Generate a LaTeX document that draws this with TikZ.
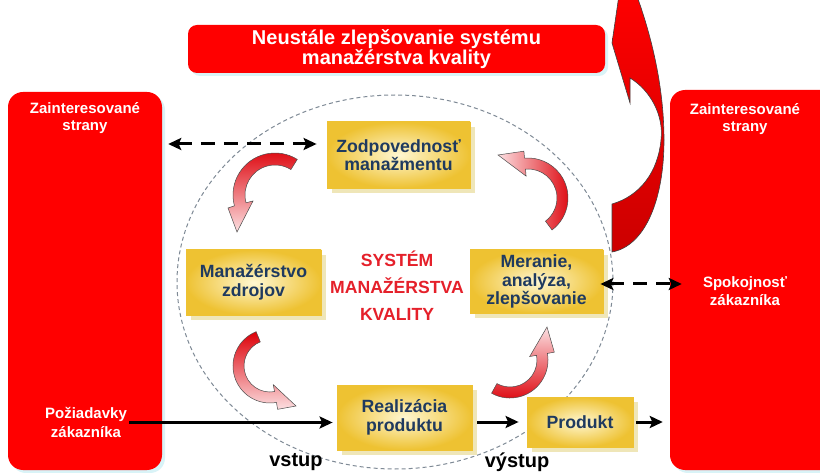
\documentclass[tikz,border=0pt]{standalone}
\usepackage{fontspec}
\setmainfont{Liberation Sans}
\usetikzlibrary{arrows.meta,calc}

\definecolor{boxred}{HTML}{FF0000}
\definecolor{curlred}{HTML}{DD0008}
\definecolor{curlpink}{HTML}{FCE0E2}
\definecolor{gold}{HTML}{EEC232}
\definecolor{goldlight}{HTML}{FFF7D2}
\definecolor{goldshadow}{HTML}{EFE6B8}
\definecolor{navy}{HTML}{1F3A5F}
\definecolor{titlered}{HTML}{E5202A}
\definecolor{haze}{HTML}{D9F3F7}
\definecolor{ringgray}{HTML}{7F8A96}

\tikzset{
  redpanel/.style={fill=boxred, rounded corners=15pt, inner sep=0pt,
    preaction={fill=haze, transform canvas={shift={(3pt,-3pt)}}}},
  paneltext/.style={text=white, font=\bfseries\fontsize{15}{17.5}\selectfont, align=center, inner sep=2pt},
  stagebox/.style={draw=gold, line width=0.8pt, inner color=goldlight, outer color=gold,
    text=navy, font=\bfseries\fontsize{17.7}{18.6}\selectfont, align=center, inner sep=0pt,
    preaction={fill=goldshadow, transform canvas={shift={(5pt,-5pt)}}}},
  flowarrow/.style={line width=3pt, -{Stealth[length=13pt,width=12pt,inset=2.5pt]}},
  linkarrow/.style={line width=3pt, dash pattern=on 14pt off 9pt,
    {Stealth[length=13pt,width=12pt,inset=2.5pt]}-{Stealth[length=13pt,width=12pt,inset=2.5pt]}},
  curl/.style={draw=black!70, line width=0.5pt},
  flowlabel/.style={text=black, font=\bfseries\fontsize{20}{22}\selectfont, inner sep=1pt},
}

\begin{document}
\begin{tikzpicture}[x=1pt, y=-1pt]
  \useasboundingbox (0,0) rectangle (820,473);
  \fill[white] (0,0) rectangle (820,473);

  % dashed boundary of the quality management system
  \draw[ringgray, dash pattern=on 4pt off 3pt, line width=1pt]
    (395,282) ellipse[x radius=218, y radius=187];

  % interested parties on both sides and the improvement banner
  \node[redpanel, minimum width=154pt, minimum height=378pt] (lbox) at (85,281) {};
  \node[redpanel, minimum width=170pt, minimum height=380pt] (rbox) at (755,280) {};
  \node[redpanel, rounded corners=9pt, minimum width=417pt, minimum height=48pt,
        text=white, font=\bfseries\fontsize{20}{20.5}\selectfont, align=center] (banner) at (396.5,49)
        {Neustále zlepšovanie systému\\manažérstva kvality};

  \node[paneltext] (lhead) at (85,118) {Zainteresované\\strany};
  \node[paneltext, font=\bfseries\fontsize{15}{18.5}\selectfont] (lreq) at (86,422.5) {Požiadavky\\zákazníka};
  \node[paneltext] (rhead) at (745,119) {Zainteresované\\strany};
  \node[paneltext] (rsat) at (745,291) {Spokojnosť\\zákazníka};

  % process stages
  \node[stagebox, minimum width=143pt, minimum height=66pt] (zod) at (398.5,155) {Zodpovednosť\\manažmentu};
  \node[stagebox, minimum width=135pt, minimum height=65pt] (res) at (253.5,282.5) {Manažérstvo\\zdrojov};
  \node[stagebox, minimum width=133pt, minimum height=63pt] (mer) at (536.5,281.5) {Meranie,\\analýza,\\zlepšovanie};
  \node[stagebox, minimum width=135pt, minimum height=65pt] (real) at (404.5,417.5) {Realizácia\\produktu};
  \node[stagebox, minimum width=106pt, minimum height=50pt] (prod) at (580,422) {Produkt};

  \node[text=titlered, font=\bfseries\fontsize{17.6}{27}\selectfont, align=center] (sys) at (397,285.5)
    {SYSTÉM\\MANAŽÉRSTVA\\KVALITY};

  \node[flowlabel] (vin) at (296,462) {vstup};
  \node[flowlabel] (vout) at (517,462) {výstup};

  % input / output flow
  \draw[flowarrow, shorten >=4pt] (lreq.east) -- (real.west |- lreq.east);
  \draw[flowarrow, shorten <=5pt, shorten >=8pt] (real.east |- prod.west) -- (prod.west);
  \draw[flowarrow, shorten <=3pt, shorten >=7pt] (prod.east) -- (rbox.west |- prod.east);

  % information links with interested parties
  \coordinate (zlink) at ([yshift=11pt]zod.west);
  \draw[linkarrow, shorten <=6pt, shorten >=10pt] (lbox.east |- zlink) -- (zlink);
  \coordinate (mlink) at ([yshift=-2.5pt]mer.east);
  \draw[linkarrow, shorten <=-3pt, shorten >=-12pt] (mlink) -- (rbox.west |- mlink);

  % cycle arrows between the stages
  \draw[curl, top color=curlred, middle color=curlred, bottom color=curlpink]
    (297.26,159.38) arc[start angle=-58, end angle=-195, radius=42]
    -- (228,208) -- (237,232) -- (253,201) -- (246.02,202.76)
    arc[start angle=-195, end angle=-58, radius=30] -- cycle;

  \draw[curl, left color=curlpink, right color=curlred]
    (552.07,229.94) arc[start angle=53, end angle=-95, radius=40]
    -- (523.90,151.18) -- (498,155) -- (526.08,176.08) -- (525.47,169.11)
    arc[start angle=-95, end angle=53, radius=29] -- cycle;

  \draw[curl, top color=curlred, middle color=curlred, bottom color=curlpink]
    (256.14,331.69) arc[start angle=-112, end angle=-280, radius=37]
    -- (277.64,409.33) -- (296,406) -- (273.30,384.71) -- (274.51,391.61)
    arc[start angle=-280, end angle=-112, radius=26] -- cycle;

  \draw[curl, bottom color=curlred, top color=curlpink]
    (491.58,393.24) arc[start angle=119, end angle=-10, radius=38]
    -- (554.32,352.19) -- (547,327) -- (529.70,356.53) -- (536.59,355.31)
    arc[start angle=-10, end angle=119, radius=27] -- cycle;

  % continual improvement arrow
  \draw[draw=black!75, line width=0.6pt, top color=boxred, middle color=boxred, bottom color=boxred!80!black]
    (620,-12) -- (612,43) -- (630,103) -- (630,78)
    .. controls (650,90) and (664,115) .. (661,140)
    .. controls (658,172) and (640,196) .. (612,204)
    -- (612,252)
    .. controls (645,246) and (664,200) .. (664,140)
    .. controls (664,80) and (648,25) .. (634,-12) -- cycle;
\end{tikzpicture}
\end{document}
